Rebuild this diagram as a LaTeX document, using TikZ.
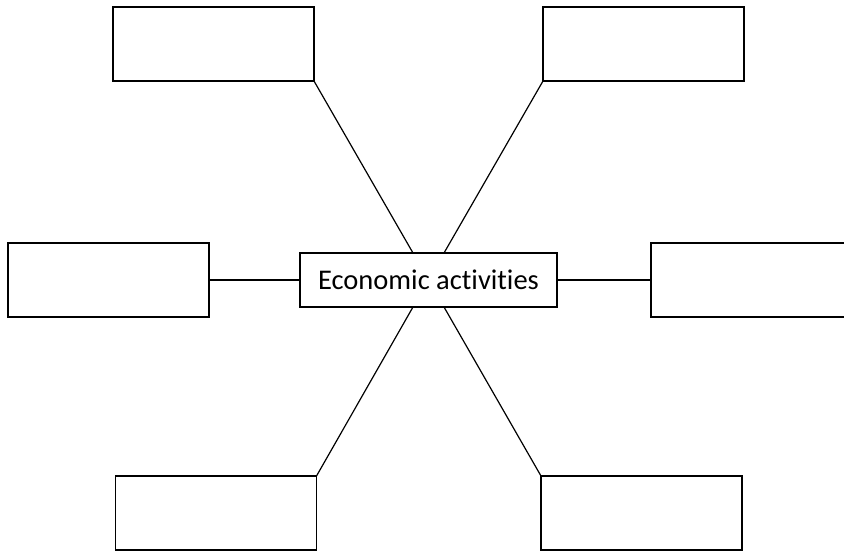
\documentclass[tikz,border=0pt]{standalone}
\usepackage{fontspec}
\setmainfont[Ligatures=NoCommon]{Carlito}
\usetikzlibrary{calc}
\begin{document}
\begin{tikzpicture}[x=1pt,y=-1pt,
  box/.style={draw,line width=1.2pt,minimum width=201pt,minimum height=74pt,inner sep=0pt,outer sep=0pt},
  link/.style={line width=1.2pt}]
\useasboundingbox (0,0) rectangle (844,552);
\node[box,minimum width=257pt,minimum height=54pt,font=\fontsize{28.5}{34}\selectfont] (c) at (428.5,280) {Economic activities};
\node[box] (tl) at (213.5,44) {};
\node[box] (tr) at (643.5,44) {};
\node[box] (l) at (108.5,280) {};
\node[box] (r) at (751.5,280) {};
\node[box] (bl) at (216,513) {};
\node[box] (br) at (641.5,513) {};
\draw[link] (tl.south east) -- ($(c.north)+(-15.5,0)$);
\draw[link] (tr.south west) -- ($(c.north)+(15.5,0)$);
\draw[link] (bl.north east) -- ($(c.south)+(-15.5,0)$);
\draw[link] (br.north west) -- ($(c.south)+(15.5,0)$);
\draw[link] (l.east) -- (c.west);
\draw[link] (r.west) -- (c.east);
\end{tikzpicture}
\end{document}
